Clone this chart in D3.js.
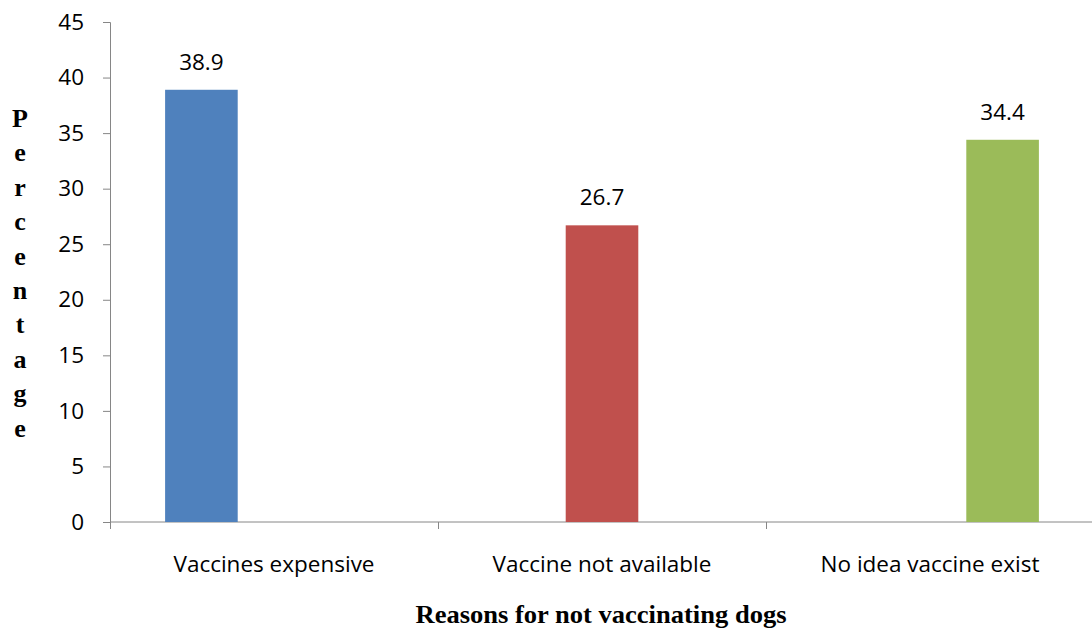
<!DOCTYPE html>
<html>
<head>
<meta charset="utf-8">
<script src="https://cdn.jsdelivr.net/npm/d3@7"></script>
<style>
  body { margin: 0; background: #fff; }
  svg text { fill: #000; }
</style>
</head>
<body>
<svg id="chart" width="1092" height="635"></svg>
<script>
// data
const categories = ["Vaccines expensive", "Vaccine not available", "No idea vaccine exist"];
const values = [38.9, 26.7, 34.4];
const barColors = ["#4F81BD", "#C0504D", "#9BBB59"];
const yTicks = [0, 5, 10, 15, 20, 25, 30, 35, 40, 45];
const yTitle = "Percentage";
const xTitle = "Reasons for not vaccinating dogs";

const margin = {top: 22, right: -2, bottom: 113, left: 110},
  width = 1092 - margin.left - margin.right,
  height = 635 - margin.top - margin.bottom;

const svg = d3.select("#chart")
  .append("g")
  .attr("transform", `translate(${margin.left},${margin.top})`);

const x = d3.scaleBand()
  .domain(categories)
  .range([0, width])
  .paddingInner(0)
  .paddingOuter(0);

// each category holds one series of a clustered chart, so bars sit left / centre / right
const inner = d3.scaleBand()
  .domain(d3.range(categories.length))
  .range([0, x.bandwidth() * 0.664])
  .padding(0);
const groupOffset = (x.bandwidth() - inner.range()[1]) / 2;

const y = d3.scaleLinear()
  .domain([0, 45])
  .range([height, 0]);

const axisColor = "#868686";
const font = "'Open Sans', sans-serif";
const fontSize = 22.5;
const serif = "'Liberation Serif', 'Times New Roman', serif";

// Y axis
const yAxis = svg.append("g")
  .call(d3.axisLeft(y).tickValues(yTicks).tickSize(7).tickPadding(19));
yAxis.select(".domain").attr("stroke", axisColor).attr("d", `M-7,0.5H0.5V${height}`);
yAxis.selectAll(".tick line").attr("stroke", axisColor);
yAxis.selectAll(".tick text")
  .attr("font-family", font).attr("font-size", fontSize).attr("fill", "#000");

// X axis
const xAxis = svg.append("g")
  .attr("transform", `translate(0,${height})`)
  .call(d3.axisBottom(x).tickSize(0).tickPadding(0).tickFormat(""));
xAxis.select(".domain").attr("stroke", axisColor).attr("d", `M0.5,0H${width}`);
xAxis.selectAll(".tick line").remove();
svg.append("g")
  .selectAll("line")
  .data(categories)
  .join("line")
    .attr("x1", d => Math.round(x(d)) + 0.5)
    .attr("x2", d => Math.round(x(d)) + 0.5)
    .attr("y1", height)
    .attr("y2", height + 7)
    .attr("stroke", axisColor);

svg.append("g")
  .selectAll("text")
  .data(categories)
  .join("text")
    .attr("x", d => x(d) + x.bandwidth() / 2)
    .attr("y", height + 50)
    .attr("text-anchor", "middle")
    .attr("font-family", font)
    .attr("font-size", fontSize)
    .text(d => d);

// bars
const barX = (d, i) => x(d) + groupOffset + inner(i);
svg.append("g")
  .selectAll("rect")
  .data(categories)
  .join("rect")
    .attr("x", barX)
    .attr("width", inner.bandwidth())
    .attr("y", (d, i) => y(values[i]))
    .attr("height", (d, i) => height - y(values[i]))
    .attr("fill", (d, i) => barColors[i]);

// value labels
svg.append("g")
  .selectAll("text")
  .data(categories)
  .join("text")
    .attr("x", (d, i) => barX(d, i) + inner.bandwidth() / 2)
    .attr("y", (d, i) => y(values[i]) - 20)
    .attr("text-anchor", "middle")
    .attr("font-family", font)
    .attr("font-size", fontSize)
    .text((d, i) => values[i]);

// stacked y title
d3.select("#chart").append("g")
  .selectAll("text")
  .data(yTitle.split(""))
  .join("text")
    .attr("x", 20)
    .attr("y", (d, i) => 127 + i * 34.4)
    .attr("text-anchor", "middle")
    .attr("font-family", serif)
    .attr("font-weight", "bold")
    .attr("font-size", 26)
    .text(d => d);

// x title
d3.select("#chart").append("text")
  .attr("x", 601)
  .attr("y", 623)
  .attr("text-anchor", "middle")
  .attr("font-family", serif)
  .attr("font-weight", "bold")
  .attr("font-size", 25)
  .attr("textLength", 371)
  .attr("lengthAdjust", "spacingAndGlyphs")
  .text(xTitle);
</script>
</body>
</html>
